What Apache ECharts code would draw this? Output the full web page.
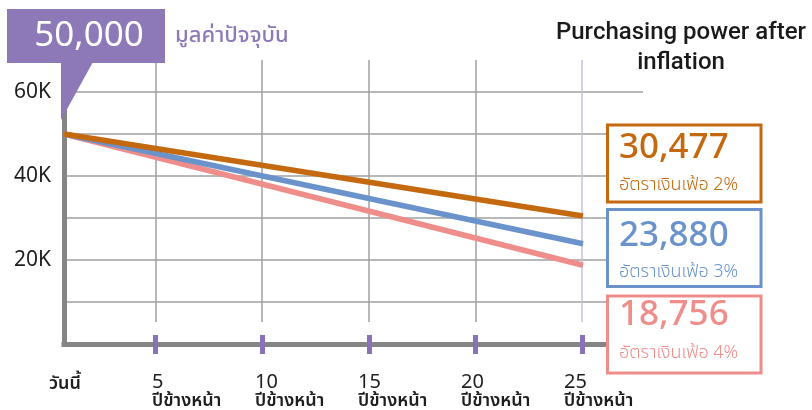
<!DOCTYPE html>
<html>
<head>
<meta charset="utf-8">
<script src="https://cdn.jsdelivr.net/npm/echarts@6/dist/echarts.min.js"></script>
<style>
  html, body { margin: 0; padding: 0; background: #ffffff; }
  #chart { width: 812px; height: 410px; }
</style>
</head>
<body>
<div id="chart"></div>
<script>
// ---- data ----
const years = [0, 25];
const presentValue = 50000;
const inflationRates = ['2%', '3%', '4%'];
const futureValues = [30477, 23880, 18756];
const yearTicks = [0, 5, 10, 15, 20, 25];
const valueTicks = [20000, 40000, 60000];
const todayLabel = 'วันนี้';
const yearsAheadLabel = 'ปีข้างหน้า';
const presentLabel = 'มูลค่าปัจจุบัน';
const rateLabel = 'อัตราเงินเฟ้อ';
const titleLines = ['Purchasing power after', 'inflation'];

// ---- styling ----
const seriesColors = ['#C4690F', '#6A93CC', '#EE8D89'];
const PURPLE = '#8E79B8';
const AXIS_GRAY = '#858585';
const RULE_GRAY = '#A0A0A0';
const FONT = '"Noto Sans", "Noto Sans Thai", sans-serif';
const fmt = v => v.toLocaleString('en-US');

// call-out boxes on the right: top edge, value text centre, rate text centre
const boxLayout = [
  { top: 125, valueY: 148.5, rateY: 184.5 },
  { top: 209.5, valueY: 236, rateY: 272 },
  { top: 296, valueY: 315.5, rateY: 353 }
];

const chart = echarts.init(document.getElementById('chart'), null, { renderer: 'canvas' });

const hiddenY = { show: false, min: 0, max: 1 };

const lineSeries = futureValues.map((end, i) => ({
  name: inflationRates[i],
  type: 'line',
  xAxisIndex: 0,
  yAxisIndex: 0,
  data: [[years[0], presentValue], [years[1], end]],
  symbol: 'none',
  silent: true,
  z: 10 - i,
  lineStyle: { color: seriesColors[i], width: 5.5, cap: 'butt' }
}));

const boxes = futureValues.map((v, i) => {
  const b = boxLayout[i];
  return [
    {
      type: 'rect',
      shape: { x: 607.5, y: b.top, width: 153.5, height: 77 },
      style: { fill: '#ffffff', stroke: seriesColors[i], lineWidth: 3 },
      z: 20
    },
    {
      type: 'text', x: 619, y: b.valueY, z: 21,
      style: {
        text: fmt(v), fill: seriesColors[i], font: '500 35px ' + FONT,
        textAlign: 'left', textVerticalAlign: 'middle'
      }
    },
    {
      type: 'text', x: 619, y: b.rateY, z: 21,
      style: {
        text: rateLabel + ' ' + inflationRates[i], fill: seriesColors[i],
        font: '300 18px ' + FONT, textAlign: 'left', textVerticalAlign: 'middle'
      }
    }
  ];
}).flat();

const option = {
  animation: false,
  backgroundColor: '#ffffff',
  textStyle: { fontFamily: FONT },
  grid: [
    // plotted lines
    { left: 64, top: 92, width: 519, height: 252, outerBoundsMode: 'none' },
    // frame and horizontal rules
    { left: 64, top: 92, width: 579, height: 252, outerBoundsMode: 'none' },
    // vertical rules
    { left: 49, top: 60, width: 533, height: 262, outerBoundsMode: 'none' },
    // tick marks
    { left: 49, top: 300, width: 533, height: 35, outerBoundsMode: 'none' },
    // year labels
    { left: 49, top: 330, width: 515, height: 42, outerBoundsMode: 'none' }
  ],
  xAxis: [
    { gridIndex: 0, type: 'value', min: 0, max: 25, show: false },
    {
      gridIndex: 1, type: 'value', min: 0, max: 1,
      axisLine: { show: true, lineStyle: { color: AXIS_GRAY, width: 5, cap: 'square' } },
      axisTick: { show: false }, axisLabel: { show: false }, splitLine: { show: false }
    },
    {
      gridIndex: 2, type: 'value', min: 0, max: 25, interval: 5,
      axisLine: { show: false }, axisTick: { show: false }, axisLabel: { show: false },
      splitLine: {
        show: true, showMinLine: false,
        lineStyle: { color: [RULE_GRAY, RULE_GRAY, RULE_GRAY, RULE_GRAY, '#C9BFE2'], width: 1.5 }
      }
    },
    {
      gridIndex: 3, type: 'value', min: 0, max: 25, interval: 5, position: 'bottom', z: 8,
      axisLine: { show: false },
      axisTick: {
        show: true, length: 19, customValues: yearTicks.slice(1),
        lineStyle: { color: '#8A72BA', width: 5 }
      },
      axisLabel: { show: false }, splitLine: { show: false }
    },
    {
      gridIndex: 4, type: 'value', min: 0, max: 25, interval: 5,
      axisLine: { show: false }, axisTick: { show: false }, splitLine: { show: false },
      axisLabel: {
        show: true, margin: 2, align: 'left', verticalAlign: 'top',
        customValues: yearTicks,
        fontFamily: FONT, color: '#1e1e1e',
        formatter: v => v === 0
          ? '{t|' + todayLabel + '}'
          : '{n|' + v + '}\n{t|' + yearsAheadLabel + '}',
        rich: {
          n: { fontFamily: FONT, fontSize: 20, lineHeight: 17, color: '#1e1e1e' },
          t: { fontFamily: FONT, fontSize: 18, fontWeight: 600, lineHeight: 20, color: '#1e1e1e' }
        }
      }
    }
  ],
  yAxis: [
    { gridIndex: 0, type: 'value', min: 0, max: 60000, show: false },
    {
      gridIndex: 1, type: 'value', min: 0, max: 60000, interval: 10000,
      axisLine: { show: true, lineStyle: { color: AXIS_GRAY, width: 5, cap: 'square' } },
      axisTick: { show: false },
      axisLabel: {
        show: true, margin: 13, fontFamily: FONT, fontSize: 21, color: '#1e1e1e',
        formatter: v => valueTicks.includes(v) ? (v / 1000) + 'K' : ''
      },
      splitLine: { show: true, lineStyle: { color: RULE_GRAY, width: 1.5 } }
    },
    Object.assign({ gridIndex: 2 }, hiddenY),
    Object.assign({ gridIndex: 3 }, hiddenY),
    Object.assign({ gridIndex: 4 }, hiddenY)
  ],
  series: lineSeries,
  graphic: {
    elements: [
      // present value call-out
      {
        type: 'polygon', z: 20,
        shape: { points: [[61, 62], [93, 62], [61, 120]] },
        style: { fill: PURPLE }
      },
      {
        type: 'rect', z: 20,
        shape: { x: 7, y: 9, width: 158, height: 54 },
        style: { fill: PURPLE }
      },
      {
        type: 'text', x: 89, y: 36, z: 21,
        style: {
          text: fmt(presentValue), fill: '#ffffff', font: '35px ' + FONT,
          textAlign: 'center', textVerticalAlign: 'middle'
        }
      },
      {
        type: 'text', x: 175, y: 36, z: 21,
        style: {
          text: presentLabel, fill: PURPLE, font: '500 22px ' + FONT,
          textAlign: 'left', textVerticalAlign: 'middle'
        }
      },
      // heading
      {
        type: 'text', x: 681, y: 48, z: 21,
        style: {
          text: titleLines.join('\n'), fill: '#1a1a1a', font: '500 24px Roboto, ' + FONT,
          lineHeight: 30, textAlign: 'center', textVerticalAlign: 'middle'
        }
      }
    ].concat(boxes)
  }
};

chart.setOption(option);
</script>
</body>
</html>
